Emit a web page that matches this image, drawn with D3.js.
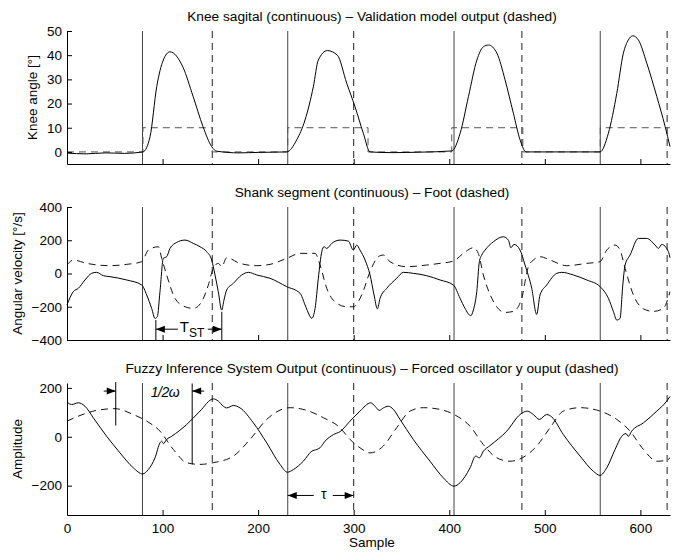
<!DOCTYPE html>
<html>
<head>
<meta charset="utf-8">
<script src="https://cdn.jsdelivr.net/npm/d3@7"></script>
<style>
  body { margin: 0; background: #fff; }
  svg { display: block; }
  text { font-family: "Liberation Sans", Arial, sans-serif; fill: #000; }
</style>
</head>
<body>
<svg id="chart" width="673" height="554"></svg>
<script>
// Gait events (sample index)
var heelStrikes = [79, 231, 405, 558];
var toeOffs = [152, 300, 476, 628];

var xTicks = [0, 100, 200, 300, 400, 500, 600];

// Panel 1: knee angle [deg]
var kneeSagital = [[0, -0.5], [20, -0.8], [40, -0.4], [60, -0.6], [79.5, 0], [86.9, 6.3], [93.9, 27], [100.8, 38],
    [107.8, 41.4], [121.4, 35], [131.9, 23], [142.3, 10.5], [151.4, 2.2], [156.7, 0.3], [180, -0.4], [200, -0.2],
    [229.9, 0], [240.4, 5], [249.1, 13.2], [257.8, 27], [263, 38], [272.4, 41.9], [282.9, 40], [292.7, 28.4],
    [301.4, 18.7], [310.1, 7.7], [317.1, 0], [340, -0.3], [370, -0.1], [402.6, 0.4], [411.4, 7.7], [420.1, 22.9],
    [428.9, 38], [435.8, 43.5], [441.1, 44.2], [449.9, 40.8], [458.4, 29.8], [467.1, 16], [474.1, 5], [480.4, 0],
    [520, 0], [557.8, 0], [566.5, 7.7], [575.3, 24.2], [582.2, 40.8], [587.4, 46.3], [592.1, 48], [597.9, 46.3],
    [606.7, 36.7], [617.2, 22.9], [625.9, 10.5], [631, 2.2]];
var kneeModel = [[0, 0], [79.5, 0], [79.5, 10], [152, 10], [152, 0], [231, 0], [231, 10], [315, 10], [315, 0],
    [402.6, 0], [402.6, 10], [477, 10], [477, 0], [558, 0], [558, 10], [631, 10]];

// Panel 2: angular velocity [deg/s]
var shankVel = [[0, -189], [6.6, -109], [11.9, -89], [18.8, -39], [25.8, 1], [31, 7], [38, -13], [45, -19],
    [62.5, -39], [78.2, -69], [83.4, -129], [88.6, -210], [92.1, -270], [94.5, -260], [97.3, -109], [100.8, 91],
    [104.3, 101], [107.8, 151], [114.8, 187], [123.5, 201], [132.2, 181], [139.2, 161], [146.2, 131], [151.4, 81],
    [154.9, -9], [158.3, -109], [161.9, -220], [164.3, -159], [167.1, -99], [174.1, -59], [182.8, -9], [189.8, 7],
    [198.6, -9], [212.5, -29], [229.9, -79], [243.9, -119], [249.1, -189], [253.6, -250], [256.1, -270],
    [259.6, -210], [263, -29], [266.6, 131], [269, 161], [271.8, 151], [277, 181], [285.7, 201], [294.4, 195],
    [299.6, 141], [303.2, 171], [306.6, 141], [311.9, 81], [317.1, -9], [321.3, -129], [324.8, -213], [327.6, -149],
    [334.6, -89], [345, -29], [352, 7], [362.4, 1], [376.4, -13], [390.4, -39], [404.3, -69], [411.3, -149],
    [416.5, -210], [422.5, -254], [425.2, -220], [428.8, -109], [431.5, 71], [434, 111], [437.5, 141], [446.2, 191],
    [456.6, 221], [461.9, 201], [464.4, 155], [467.8, 175], [474.1, 141], [479.3, 51], [486.3, -89], [491.5, -246],
    [495, -129], [502, -69], [512.5, 1], [517.7, 7], [529.9, -9], [543.9, -39], [557.8, -79], [566.5, -149],
    [571.8, -229], [575.3, -280], [578.7, -270], [581.6, -69], [584, 51], [589.2, 111], [597.9, 211], [606.7, 211],
    [615.4, 171], [618.9, 151], [622.4, 175], [629.3, 131], [631, 95]];
var footVel = [[0, 51], [6.6, 81], [20.6, 61], [45, 47], [62.5, 55], [78.2, 71], [85.1, 141], [95.6, 161],
    [99.1, 91], [104.3, -9], [113, -149], [123.5, -200], [132.2, -210], [141, -169], [147.9, -69], [153.1, 31],
    [158.3, 61], [161.9, 41], [167.1, 95], [181, 61], [198.6, 47], [212.5, 55], [229.9, 91], [243.9, 121],
    [259.6, 121], [264.8, 51], [271.8, -89], [282.3, -179], [292.7, -200], [299.6, -200], [308.4, -129],
    [317.1, 11], [325.8, 101], [331, 111], [338, 71], [355.5, 41], [376.4, 51], [390.4, 61], [404.3, 75],
    [414.8, 121], [425.2, 155], [430.4, 121], [435.7, -9], [444.5, -149], [458.4, -234], [467.1, -228],
    [475.9, -149], [479.3, -49], [482.8, 41], [488, 81], [495, 101], [505.5, 81], [523, 47], [543.9, 61],
    [557.8, 71], [564.8, 141], [573.5, 171], [578.7, 141], [584, 31], [592.7, -129], [603.2, -213], [613.6, -228],
    [624, -210], [631, -109]];

// Panel 3: amplitude
var fisOutput = [[0, 142], [4.9, 132], [11.8, 139], [18.8, 125], [27.5, 78], [41.5, 2], [55.5, -66], [69.4, -127],
    [79.2, -152], [85.1, -134], [92.1, -86], [97.3, -25], [99.1, -18], [100.8, -28], [104.3, -11], [109.5, 2],
    [125.2, 50], [139.2, 105], [153.1, 155], [158.3, 146], [163.6, 125], [167.1, 118], [174.1, 128], [181.1, 118],
    [195, 57], [209, -25], [222.9, -113], [230.6, -145], [236.9, -134], [247.3, -100], [256.1, -59], [261.3, -52],
    [264.8, -45], [270, -18], [278.8, 9], [285.7, 21], [296.2, 64], [306.6, 105], [317.8, 139], [322.3, 125],
    [326.8, 108], [331, 118], [336.3, 125], [341.5, 112], [348.5, 71], [362.4, -11], [379.9, -100], [393.8, -168],
    [405, -202], [411.3, -188], [421.8, -127], [427.7, -79], [431.5, -86], [435.7, -59], [442.7, -36], [460.2, 23],
    [474.1, 91], [481.7, 105], [488, 91], [494.3, 71], [502, 91], [507.3, 81], [519.4, 9], [536.9, -79],
    [550.8, -141], [557.8, -158], [564.8, -127], [573.5, -52], [580.5, 2], [585, 13], [587.4, 2], [590.9, 23],
    [603.2, 57], [617.2, 105], [627.6, 146], [631, 165]];
var oscOutput = [[0, 64], [13.6, 87], [31, 108], [50.2, 115], [69.4, 91], [83.4, 64], [97.3, 23], [111.3, -52],
    [125.2, -106], [139.2, -113], [153.1, -106], [174.1, -79], [191.5, -11], [209, 71], [222.9, 109], [233.4, 119],
    [250.9, 108], [268.3, 78], [285.7, 37], [296.2, -11], [306.6, -45], [317.1, -66], [331, -38], [345, 37],
    [359, 105], [372.9, 119], [390.4, 112], [405, 91], [421.8, 43], [435.7, -32], [449.7, -86], [463.6, -100],
    [476.5, -86], [491.5, -38], [505.5, 37], [519.4, 105], [536.9, 119], [557.8, 105], [575.3, 71], [589.2, 23],
    [603.2, -52], [617.2, -100], [627.6, -96], [631, -86]];

var svg = d3.select('#chart');

var x = d3.scaleLinear().domain([0, 631]).range([67, 670]);

var panels = [
    { top: 31, bottom: 164, domain: [-5, 50], ticks: [0, 10, 20, 30, 40, 50], labelX: 33, ylabel: 'Knee angle [°]',
      title: 'Knee sagital (continuous) \u2013 Validation model output (dashed)', titleY: 20.5,
      solid: kneeSagital, dashed: kneeModel, curveSolid: d3.curveMonotoneX, curveDashed: d3.curveLinear },
    { top: 207, bottom: 340, domain: [-400, 400], ticks: [-400, -200, 0, 200, 400], labelX: 18, ylabel: 'Angular velocity [°/s]',
      title: 'Shank segment (continuous) \u2013 Foot (dashed)', titleY: 196.7,
      solid: shankVel, dashed: footVel, curveSolid: d3.curveMonotoneX, curveDashed: d3.curveMonotoneX },
    { top: 383, bottom: 515, domain: [-320, 220], ticks: [-200, 0, 200], labelX: 18, ylabel: 'Amplitude',
      title: 'Fuzzy Inference System Output (continuous) \u2013 Forced oscillator y ouput (dashed)', titleY: 372.5,
      solid: fisOutput, dashed: oscOutput, curveSolid: d3.curveMonotoneX, curveDashed: d3.curveMonotoneX }
];

panels.forEach(function (p, i) {
    var y = d3.scaleLinear().domain(p.domain).range([p.bottom, p.top]);
    p.y = y;
    var g = svg.append('g');

    // event lines
    g.selectAll('.hs').data(heelStrikes).enter().append('line')
        .attr('x1', function (d) { return x(d); }).attr('x2', function (d) { return x(d); })
        .attr('y1', p.top).attr('y2', p.bottom)
        .attr('stroke', '#444').attr('stroke-width', 1);
    g.selectAll('.to').data(toeOffs).enter().append('line')
        .attr('x1', function (d) { return x(d); }).attr('x2', function (d) { return x(d); })
        .attr('y1', p.top).attr('y2', p.bottom)
        .attr('stroke', '#222').attr('stroke-width', 1).attr('stroke-dasharray', '7,5');

    var lineD = d3.line().x(function (d) { return x(d[0]); }).y(function (d) { return y(d[1]); });

    g.append('path').datum(p.dashed)
        .attr('d', lineD.curve(p.curveDashed))
        .attr('fill', 'none').attr('stroke', i === 0 ? '#555' : '#111')
        .attr('stroke-width', 1).attr('stroke-dasharray', '7,5');
    g.append('path').datum(p.solid)
        .attr('d', lineD.curve(p.curveSolid))
        .attr('fill', 'none').attr('stroke', '#000').attr('stroke-width', 1);

    g.append('g').attr('transform', 'translate(' + x(0) + ',0)')
        .call(d3.axisLeft(y).tickValues(p.ticks).tickSizeInner(-5).tickSizeOuter(0).tickPadding(5)
            .tickFormat(function (d) { return d < 0 ? '\u2212' + Math.abs(d) : d; }));
    g.append('g').attr('transform', 'translate(0,' + p.bottom + ')')
        .call(d3.axisBottom(x).tickValues(xTicks).tickSizeInner(-5).tickSizeOuter(0).tickPadding(8)
            .tickFormat(i === 2 ? d3.format('d') : ''));
    g.selectAll('.domain, .tick line').attr('stroke', '#000');
    g.selectAll('.tick text').style('font-size', '13.5px').style('font-family', '"Liberation Sans", Arial, sans-serif');

    g.append('text')
        .attr('transform', 'translate(' + p.labelX + ',' + ((p.top + p.bottom) / 2) + ') rotate(-90)')
        .attr('text-anchor', 'middle').attr('dominant-baseline', 'middle')
        .style('font-size', '13.5px')
        .text(p.ylabel);

    g.append('text')
        .attr('x', 372).attr('y', p.titleY)
        .attr('text-anchor', 'middle')
        .style('font-size', '13.7px')
        .text(p.title);
});

svg.append('text')
    .attr('x', 372).attr('y', 547)
    .attr('text-anchor', 'middle')
    .style('font-size', '13.5px')
    .text('Sample');

// annotations
function arrowHead(px, py, dir) {
    svg.append('path')
        .attr('d', 'M' + px + ',' + py + 'L' + (px - dir * 9) + ',' + (py - 3.5) + 'L' + (px - dir * 9) + ',' + (py + 3.5) + 'Z')
        .attr('fill', '#000');
}
function seg(x1, y1, x2, y2) {
    svg.append('line').attr('x1', x1).attr('y1', y1).attr('x2', x2).attr('y2', y2)
        .attr('stroke', '#000').attr('stroke-width', 1);
}

// T_ST in panel 2
var y2 = panels[1].y;
var tstA = x(93), tstB = x(162), tstY = y2(-335);
seg(tstA, y2(-280), tstA, y2(-400));
seg(tstB, y2(-230), tstB, y2(-400));
seg(tstA, tstY, tstA + 22, tstY);
seg(tstB - 14, tstY, tstB, tstY);
arrowHead(tstA, tstY, -1);
arrowHead(tstB, tstY, 1);
var tst = svg.append('text').attr('x', tstA + 24).attr('y', tstY + 3)
    .attr('text-anchor', 'start').style('font-size', '15px');
tst.append('tspan').text('T');
tst.append('tspan').attr('dy', 5).style('font-size', '12px').text('ST');

// 1/2 omega in panel 3
var y3 = panels[2].y;
var wA = x(51), wB = x(131), wY = y3(187);
seg(wA, y3(224), wA, y3(46));
seg(wB, y3(218), wB, y3(-113));
seg(wA - 12, wY, wA, wY);
seg(wB, wY, wB + 12, wY);
arrowHead(wA, wY, 1);
arrowHead(wB, wY, -1);
svg.append('text').attr('x', (wA + wB) / 2 + 11).attr('y', wY + 6)
    .attr('text-anchor', 'middle').style('font-size', '14px').style('font-style', 'italic')
    .attr('letter-spacing', '-0.5')
    .text('1/2\u03c9');

// tau in panel 3
var tA = x(231), tB = x(300), tY = y3(-240);
seg(tA, tY, tA + 26, tY);
seg(tA + 45, tY, tB, tY);
arrowHead(tA, tY, -1);
arrowHead(tB, tY, 1);
svg.append('text').attr('x', tA + 36).attr('y', tY + 4)
    .attr('text-anchor', 'middle').style('font-size', '14px')
    .text('\u03c4');
</script>
</body>
</html>
